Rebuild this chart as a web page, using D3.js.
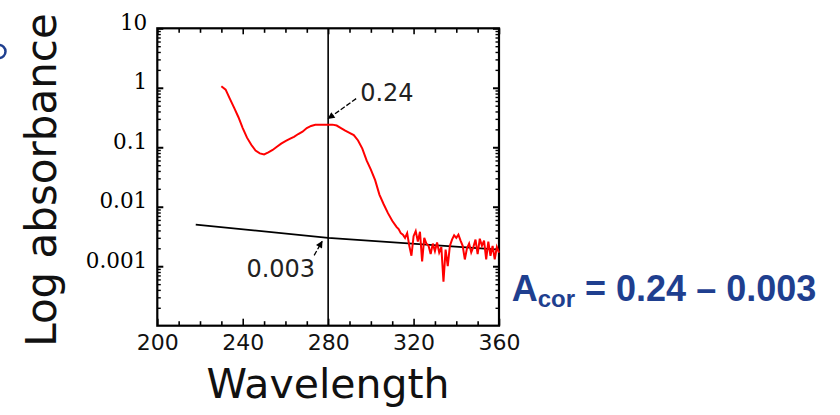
<!DOCTYPE html>
<html>
<head>
<meta charset="utf-8">
<script src="https://cdn.jsdelivr.net/npm/d3@7"></script>
<style>
  html, body { margin: 0; padding: 0; background: #fff; }
  svg { display: block; }
</style>
</head>
<body>
<script>
// Absorbance spectrum (log scale) with a fitted scatter baseline.
const wavelength = [
  230, 232, 234, 236, 238, 240, 242, 244, 246, 248,
  250, 252, 254, 256, 258, 260, 262, 264, 266, 268,
  270, 272, 274, 276, 278, 280, 282, 284, 286, 288,
  290, 292, 294, 296, 298, 300, 302, 304, 306, 308,
  310, 312, 313, 314, 315, 316, 317, 318, 319, 320,
  321, 322, 323, 324, 325, 326, 327, 328, 329, 330,
  331, 332, 333, 334, 335, 336, 337, 338, 339, 340,
  341, 342, 343, 344, 345, 346, 347, 348, 349, 350,
  351, 352, 353, 354, 355, 356, 357, 358, 359, 360
];
const absorbance = [
  1.06, 0.93, 0.65, 0.46, 0.32, 0.21, 0.145, 0.11, 0.088, 0.079,
  0.076, 0.082, 0.090, 0.102, 0.115, 0.127, 0.138, 0.150, 0.167, 0.183,
  0.21, 0.228, 0.238, 0.24, 0.24, 0.24, 0.24, 0.232, 0.21, 0.19,
  0.175, 0.16, 0.13, 0.095, 0.06, 0.042, 0.028, 0.016, 0.011, 0.0078,
  0.0058, 0.0046, 0.0042, 0.0036, 0.0034, 0.0030, 0.0036, 0.0022, 0.0015, 0.0032,
  0.0039, 0.0026, 0.0038, 0.0012, 0.0030, 0.0024, 0.0022, 0.0016, 0.0024, 0.0018,
  0.0025, 0.0017, 0.0021, 0.00055, 0.0019, 0.0010, 0.0022, 0.0028, 0.0033, 0.0030,
  0.0034, 0.0027, 0.0022, 0.0013, 0.0020, 0.0024, 0.0017, 0.0021, 0.0028, 0.0016,
  0.0029, 0.0022, 0.0027, 0.0013, 0.0026, 0.0015, 0.0022, 0.0013, 0.0021, 0.0017
];

// Scatter baseline
const baselineWavelength = [218, 280, 360];
const baselineAbsorbance = [0.005, 0.003, 0.0019];

// Readings at the measurement wavelength
const markerWavelength = 280;
const readingValues = [0.24, 0.003];
const readingLabels = ["0.24", "0.003"];

// Axis ticks
const xTickValues = [200, 240, 280, 320, 360];
const xMinorTicks = [210, 220, 230, 250, 260, 270, 290, 300, 310, 330, 340, 350];
const yTickValues = [10, 1, 0.1, 0.01, 0.001];
const yTickLabels = ["10", "1", "0.1", "0.01", "0.001"];
const yMinorTicks = [];
[1e-4, 1e-3, 1e-2, 1e-1, 1].forEach(d => {
  for (let k = 2; k <= 9; k++) yMinorTicks.push(+(k * d).toPrecision(2));
});

const W = 840, H = 415;
const plotL = 157.3, plotR = 499, plotT = 28.3, plotB = 325.7;

const svg = d3.select("body").append("svg")
  .attr("width", W).attr("height", H)
  .attr("viewBox", `0 0 ${W} ${H}`);

svg.append("rect").attr("width", W).attr("height", H).attr("fill", "#fff");

const x = d3.scaleLinear().domain([200, 360]).range([plotL, plotR]);
const y = d3.scaleLog().domain([1e-4, 10]).range([plotB, plotT]);

const tickFont = "'DejaVu Sans', sans-serif";
const serifFont = "'DejaVu Serif', serif";

function styleAxis(g, width) {
  g.select(".domain").remove();
  g.selectAll(".tick line").attr("stroke", "#000").attr("stroke-width", width);
}

// Bottom axis
svg.append("g")
  .attr("transform", `translate(0,${plotB})`)
  .call(d3.axisBottom(x).tickValues(xTickValues).tickFormat(d3.format("d"))
    .tickSizeInner(-7).tickSizeOuter(0).tickPadding(9))
  .call(g => styleAxis(g, 1.6))
  .call(g => g.selectAll("text").attr("font-family", tickFont)
    .attr("font-size", 22).attr("fill", "#111"));
svg.append("g")
  .attr("transform", `translate(0,${plotB})`)
  .call(d3.axisBottom(x).tickValues(xMinorTicks).tickFormat("")
    .tickSizeInner(-4.5).tickSizeOuter(0))
  .call(g => styleAxis(g, 1.6));

// Top axis
[[xTickValues, -6], [xMinorTicks, -4.5]].forEach(([vals, size]) => {
  svg.append("g")
    .attr("transform", `translate(0,${plotT})`)
    .call(d3.axisTop(x).tickValues(vals).tickFormat("")
      .tickSizeInner(size).tickSizeOuter(0))
    .call(g => styleAxis(g, 1.6));
});

// Left axis
svg.append("g")
  .attr("transform", `translate(${plotL},0)`)
  .call(d3.axisLeft(y).tickValues(yTickValues)
    .tickFormat((d, i) => yTickLabels[i])
    .tickSizeInner(-6).tickSizeOuter(0).tickPadding(10))
  .call(g => styleAxis(g, 2))
  .call(g => g.selectAll("text").attr("font-family", serifFont)
    .attr("font-size", 21.5).attr("fill", "#000")
    .attr("dy", "0.32em").attr("y", -6));
svg.append("g")
  .attr("transform", `translate(${plotL},0)`)
  .call(d3.axisLeft(y).tickValues(yMinorTicks).tickFormat("")
    .tickSizeInner(-3.5).tickSizeOuter(0))
  .call(g => styleAxis(g, 1.4));

// Right axis
svg.append("g")
  .attr("transform", `translate(${plotR},0)`)
  .call(d3.axisRight(y).tickValues(yTickValues).tickFormat("")
    .tickSizeInner(-6).tickSizeOuter(0))
  .call(g => styleAxis(g, 2));
svg.append("g")
  .attr("transform", `translate(${plotR},0)`)
  .call(d3.axisRight(y).tickValues(yMinorTicks).tickFormat("")
    .tickSizeInner(-3.5).tickSizeOuter(0))
  .call(g => styleAxis(g, 1.4));

// Frame
svg.append("rect")
  .attr("x", plotL).attr("y", plotT)
  .attr("width", plotR - plotL).attr("height", plotB - plotT)
  .attr("fill", "none").attr("stroke", "#000").attr("stroke-width", 2.2);

// Measurement wavelength marker
svg.append("line")
  .attr("x1", x(markerWavelength)).attr("x2", x(markerWavelength))
  .attr("y1", plotT).attr("y2", plotB)
  .attr("stroke", "#000").attr("stroke-width", 1.6);

// Baseline
const baseLine = d3.line()
  .x((d, i) => x(baselineWavelength[i]))
  .y(d => y(d));
svg.append("path")
  .attr("d", baseLine(baselineAbsorbance))
  .attr("fill", "none").attr("stroke", "#000").attr("stroke-width", 1.7);

// Spectrum
const specLine = d3.line()
  .x((d, i) => x(wavelength[i]))
  .y(d => y(d));
svg.append("path")
  .attr("d", specLine(absorbance))
  .attr("fill", "none").attr("stroke", "#ff0000").attr("stroke-width", 2)
  .attr("stroke-linejoin", "miter");

// Arrowhead marker
svg.append("defs").append("marker")
  .attr("id", "arrowhead")
  .attr("viewBox", "0 0 10 10").attr("refX", 9).attr("refY", 5)
  .attr("markerWidth", 10).attr("markerHeight", 7)
  .attr("markerUnits", "userSpaceOnUse")
  .attr("orient", "auto")
  .append("path").attr("d", "M0,0 L10,5 L0,10 Z").attr("fill", "#000");

// Reading callouts: tip offset from point, tail offset from tip, label offset from point
const callouts = [
  { tip: [0, -6], tail: [28, -20], label: [32, -24], anchor: "start" },
  { tip: [-6, 3.5], tail: [-8, 14], label: [-13, 39], anchor: "end" }
];
readingValues.forEach((v, i) => {
  const px = x(markerWavelength), py = y(v);
  const c = callouts[i];
  const tx = px + c.tip[0], ty = py + c.tip[1];
  const sx = tx + c.tail[0], sy = ty + c.tail[1];
  svg.append("line")
    .attr("x1", sx).attr("y1", sy).attr("x2", tx).attr("y2", ty)
    .attr("stroke", "#000").attr("stroke-width", 1.3)
    .attr("stroke-dasharray", "5,2")
    .attr("marker-end", "url(#arrowhead)");
  svg.append("text")
    .attr("x", px + c.label[0]).attr("y", py + c.label[1])
    .attr("text-anchor", c.anchor)
    .attr("font-family", tickFont).attr("font-size", 24).attr("fill", "#222")
    .text(readingLabels[i]);
});

// Axis titles
svg.append("text")
  .attr("x", 328).attr("y", 398)
  .attr("text-anchor", "middle")
  .attr("font-family", tickFont).attr("font-size", 41)
  .attr("fill", "#111")
  .text("Wavelength");

svg.append("text")
  .attr("transform", "translate(56,180) rotate(-90)")
  .attr("text-anchor", "middle")
  .attr("font-family", tickFont).attr("font-size", 42)
  .attr("fill", "#111")
  .text("Log absorbance");

// Corrected absorbance expression
const blue = "#1f3f8f";
const expr = svg.append("text")
  .attr("x", 511.7).attr("y", 300.5)
  .attr("font-family", "'Liberation Sans', Arial, sans-serif")
  .attr("font-weight", "bold").attr("fill", blue);
expr.append("tspan").attr("font-size", 36).text("A");
expr.append("tspan").attr("font-size", 24).attr("dy", 6.5).text("cor");
expr.append("tspan").attr("font-size", 36).attr("dy", -6.5).text(" = 0.24 \u2013 0.003");

// Bullet ring at the left edge
svg.append("circle")
  .attr("cx", -1).attr("cy", 51.5).attr("r", 6.5)
  .attr("fill", "none").attr("stroke", blue).attr("stroke-width", 2.5);
</script>
</body>
</html>
